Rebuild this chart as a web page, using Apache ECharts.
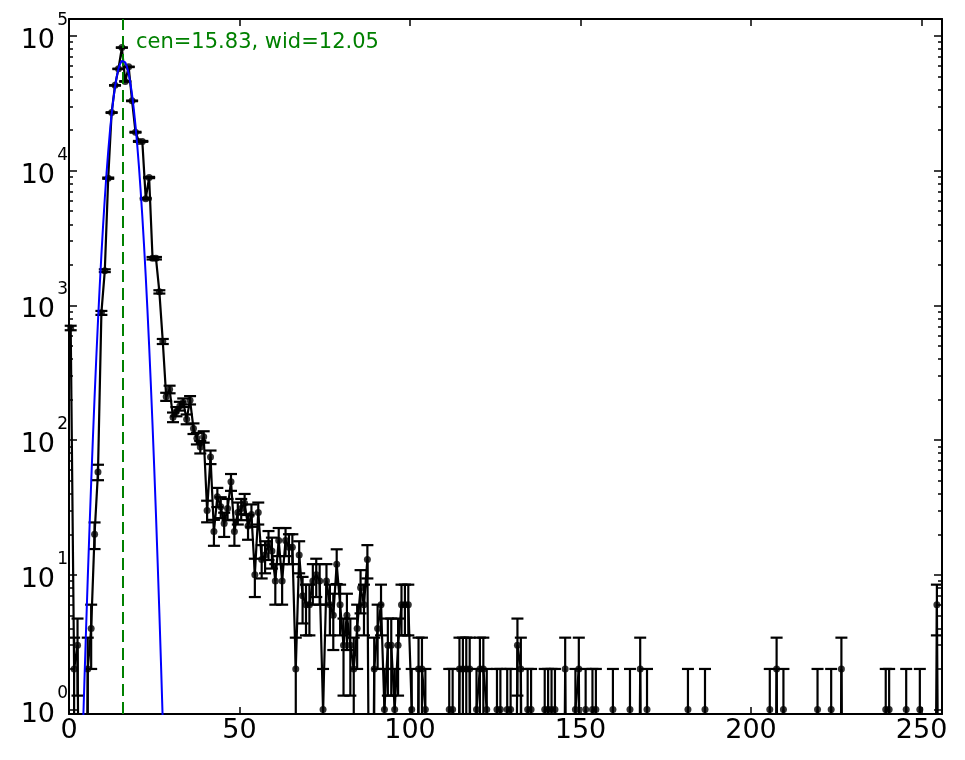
<!DOCTYPE html>
<html>
<head>
<meta charset="utf-8">
<script src="https://cdn.jsdelivr.net/npm/echarts@6/dist/echarts.min.js"></script>
<style>
html,body{margin:0;padding:0;background:#fff;}
#chart{width:965px;height:760px;}
</style>
</head>
<body>
<div id="chart"></div>
<script>
// ---- data ----
// counts per bin (bins 0..255, drawn at bin centres)
const counts = [
  680, 2, 3, 0, 0, 2, 4, 20, 58, 880,
  1810, 8800, 27000, 43000, 57000, 82000, 46000, 59000, 33000, 19300,
  16500, 16500, 6200, 8900, 2240, 2240, 1260, 540, 210, 238,
  148, 163, 179, 190, 143, 198, 122, 103, 89, 106,
  30, 75, 21, 38, 32, 24, 31, 49, 21, 29,
  31, 34, 23, 28, 10, 29, 13, 14, 17, 15,
  9, 18, 9, 18, 16, 16, 2, 14, 7, 6,
  6, 9, 10, 9, 1, 9, 6, 5, 12, 6,
  3, 5, 3, 2, 4, 8, 6, 13, 0, 2,
  4, 6, 1, 3, 3, 1, 3, 6, 6, 6,
  1, 0, 2, 2, 1, 0, 0, 0, 0, 0,
  0, 1, 1, 0, 2, 2, 2, 2, 0, 1,
  2, 2, 1, 0, 0, 1, 1, 0, 1, 1,
  0, 3, 2, 0, 1, 1, 0, 0, 0, 1,
  1, 1, 1, 0, 0, 2, 0, 0, 1, 2,
  0, 1, 0, 1, 1, 0, 0, 0, 0, 1,
  0, 0, 0, 0, 1, 0, 0, 2, 0, 1,
  0, 0, 0, 0, 0, 0, 0, 0, 0, 0,
  0, 1, 0, 0, 0, 0, 1, 0, 0, 0,
  0, 0, 0, 0, 0, 0, 0, 0, 0, 0,
  0, 0, 0, 0, 0, 1, 0, 2, 0, 1,
  0, 0, 0, 0, 0, 0, 0, 0, 0, 1,
  0, 0, 0, 1, 0, 0, 2, 0, 0, 0,
  0, 0, 0, 0, 0, 0, 0, 0, 0, 1,
  1, 0, 0, 0, 0, 1, 0, 0, 0, 1,
  0, 0, 0, 0, 6, 0
];
// fitted curve (blue)
const fitX = [3.5, 4, 4.5, 5, 5.5, 6, 6.5, 7, 7.5, 8, 8.5, 9, 9.5, 10, 10.5, 11, 11.5, 12, 12.5, 13,
  13.5, 14, 14.5, 15, 15.5, 15.83, 16, 16.5, 17, 17.5, 18, 18.5, 19, 19.5, 20, 20.5, 21, 21.5, 22, 22.5,
  23, 23.5, 24, 24.5, 25, 25.5, 26, 26.5, 27, 27.5, 28];
const fitY = [0.22, 0.60, 1.56, 3.91, 9.41, 21.7, 48.1, 102, 208, 407, 764, 1375, 2373, 3930, 6240, 9520, 13900, 19500, 26300, 33900,
  42000, 50000, 57000, 62300, 65400, 66000, 65800, 63600, 58900, 52400, 44600, 36500, 28700, 21600, 15600, 10800, 7180, 4580, 2800, 1644,
  926, 501, 259, 129, 61.4, 28.1, 12.3, 5.21, 2.10, 0.81, 0.30];
const fitCenter = 15.83;
const fitWidth = 12.05;
const xTicks = [0, 50, 100, 150, 200, 250];
const yMajorTicks = [1, 10, 100, 1000, 10000, 100000];
const yMinorTicks = [2,3,4,5,6,7,8,9, 20,30,40,50,60,70,80,90, 200,300,400,500,600,700,800,900,
  2000,3000,4000,5000,6000,7000,8000,9000, 20000,30000,40000,50000,60000,70000,80000,90000];
const xRange = [0, 256];
const yRange = [0.926, 133700];

// ---- build chart ----
const FONT = 'DejaVu Sans';
const ZERO_FLOOR = 1e-3; // empty bins drop below the axis (clipped), like a log plot does
const lineData = counts.map((c, i) => [i + 0.5, c > 0 ? c : ZERO_FLOOR]);
const pointData = counts.map((c, i) => [i + 0.5, c]).filter(d => d[1] > 0);

const chart = echarts.init(document.getElementById('chart'), null, {renderer: 'canvas'});

function xAxisDef(pos, showLabel) {
  return {
    type: 'value', min: xRange[0], max: xRange[1], interval: 50, position: pos,
    axisLine: {show: true, onZero: false, lineStyle: {color: '#000', width: 2}},
    axisTick: {show: true, inside: true, length: 7, customValues: xTicks, lineStyle: {color: '#000', width: 1.5}},
    axisLabel: {show: showLabel, margin: 3, color: '#000', fontSize: 27, fontFamily: FONT,
      customValues: xTicks,
      formatter: v => (xTicks.indexOf(v) >= 0 ? String(v) : '')},
    splitLine: {show: false}
  };
}
function yAxisDef(pos, ticks, len, showLabel, showLine) {
  return {
    type: 'log', logBase: 10, min: yRange[0], max: yRange[1], position: pos,
    axisLine: {show: showLine, onZero: false, lineStyle: {color: '#000', width: 2}},
    axisTick: {show: true, inside: true, length: len, customValues: ticks, lineStyle: {color: '#000', width: 1.5}},
    axisLabel: {
      show: showLabel, margin: 1, color: '#000', fontFamily: FONT, align: 'right',
      customValues: ticks,
      formatter: v => {
        const l = Math.log10(v), e = Math.round(l);
        if (Math.abs(l - e) > 1e-6) return '';
        return '{e|' + e + '}\n{b|10}';
      },
      rich: {
        e: {fontSize: 17, fontFamily: FONT, color: '#000', lineHeight: 10, align: 'right'},
        b: {fontSize: 27, fontFamily: FONT, color: '#000', lineHeight: 31, align: 'right', padding: [0, 13, 0, 0]}
      }
    },
    splitLine: {show: false},
    minorTick: {show: false}
  };
}

const option = {
  backgroundColor: '#ffffff',
  animation: false,
  grid: {left: 69, top: 19, width: 873, height: 695, containLabel: false},
  xAxis: [xAxisDef('bottom', true), xAxisDef('top', false)],
  yAxis: [
    yAxisDef('left', yMajorTicks, 8, true, true),
    yAxisDef('left', yMinorTicks, 4, false, false),
    yAxisDef('right', yMajorTicks, 8, false, true),
    yAxisDef('right', yMinorTicks, 4, false, false)
  ],
  graphic: [{
    type: 'text', left: 136, top: 32, z: 100,
    style: {text: 'cen=' + fitCenter.toFixed(2) + ', wid=' + fitWidth.toFixed(2),
      fill: '#008000', font: '21px "DejaVu Sans"'}
  }],
  series: [
    {
      type: 'line', name: 'counts', data: lineData, xAxisIndex: 0, yAxisIndex: 0,
      showSymbol: false, clip: true, z: 2,
      lineStyle: {color: '#000', width: 2.2}
    },
    {
      type: 'custom', name: 'errors', data: pointData, xAxisIndex: 0, yAxisIndex: 0, z: 3,
      encode: {x: 0, y: 1},
      renderItem: function (params, api) {
        const x = api.value(0), v = api.value(1), s = Math.sqrt(v);
        const cs = params.coordSys;
        const bottom = cs.y + cs.height, top = cs.y;
        const pHi = api.coord([x, v + s]);
        const px = pHi[0];
        let yHi = Math.max(pHi[1], top);
        let yLo, loVisible = false;
        if (v - s > 0) {
          yLo = api.coord([x, v - s])[1];
          if (yLo <= bottom) loVisible = true;
        }
        if (!loVisible) yLo = bottom;
        const cap = 6;
        const st = {stroke: '#000', lineWidth: 2.2};
        const children = [
          {type: 'line', shape: {x1: px, y1: yHi, x2: px, y2: yLo}, style: st},
          {type: 'line', shape: {x1: px - cap, y1: yHi, x2: px + cap, y2: yHi}, style: st}
        ];
        if (loVisible) children.push({type: 'line', shape: {x1: px - cap, y1: yLo, x2: px + cap, y2: yLo}, style: st});
        return {type: 'group', children: children};
      }
    },
    {
      type: 'scatter', name: 'points', data: pointData, xAxisIndex: 0, yAxisIndex: 0,
      symbol: 'circle', symbolSize: 7, itemStyle: {color: '#000'}, z: 4
    },
    {
      type: 'line', name: 'fit', data: fitX.map((x, i) => [x, fitY[i]]), xAxisIndex: 0, yAxisIndex: 0,
      showSymbol: false, clip: true, z: 5,
      lineStyle: {color: '#0000ff', width: 2},
      markLine: {
        silent: true, symbol: ['none', 'none'], label: {show: false},
        lineStyle: {color: '#008000', width: 2, type: [12, 6]},
        data: [{xAxis: fitCenter}]
      }
    }
  ]
};
chart.setOption(option);
</script>
</body>
</html>
